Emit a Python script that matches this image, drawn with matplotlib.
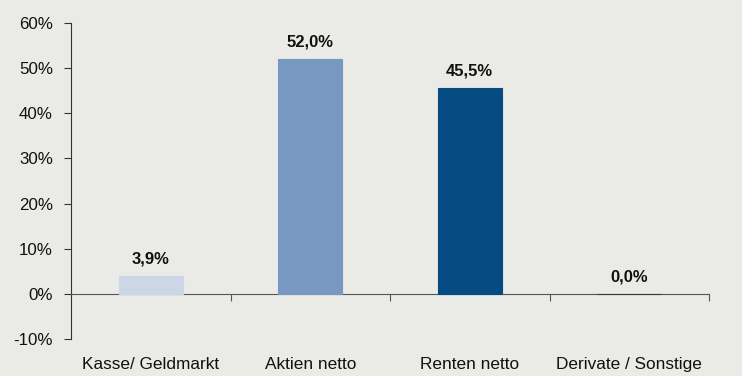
import matplotlib.pyplot as plt
import numpy as np

plt.rcParams['font.family'] = ['Liberation Sans', 'DejaVu Sans']

# Anteile je Anlageklasse in Prozent
kategorien = ['Kasse/ Geldmarkt', 'Aktien netto', 'Renten netto', 'Derivate / Sonstige']
anteile = [3.9, 52.0, 45.5, 0.0]
farben = ['#cdd6e7', '#7798c0', '#064a82', '#2e3a48']
y_ticks = [-10, 0, 10, 20, 30, 40, 50, 60]

bg = '#eaeae6'
fig = plt.figure(figsize=(7.42, 3.76), dpi=100, facecolor=bg)
ax = fig.add_axes([71 / 742, 1 - 339 / 376, 638 / 742, 316 / 376])
ax.set_facecolor(bg)

x = np.arange(len(kategorien))
# Randlinie in Balkenfarbe, damit der 0-%-Balken als Strich sichtbar bleibt
ax.bar(x, anteile, width=0.4, color=farben, edgecolor=farben, linewidth=0.8, zorder=3)

for xi, v in zip(x, anteile):
    ax.annotate(f"{v:.1f}%".replace('.', ','), (xi, v), xytext=(0, 9),
                textcoords='offset points', ha='center', va='baseline',
                fontsize=12, fontweight='bold', color='#111111')

ax.set_xlim(-0.5, len(kategorien) - 0.5)
ax.set_ylim(-10, 60)
ax.set_yticks(y_ticks)
ax.set_yticklabels([f"{t}%" for t in y_ticks], fontsize=12.2, color='#111111')

# x-Achse liegt auf der Nulllinie, Striche an den Kategoriegrenzen
ax.spines['bottom'].set_position(('data', 0))
ax.spines['bottom'].set_color('#555555')
ax.spines['left'].set_color('#333333')
ax.spines['top'].set_visible(False)
ax.spines['right'].set_visible(False)
ax.set_xticks(np.arange(0.5, len(kategorien)))
ax.set_xticklabels([])
ax.tick_params(axis='x', direction='out', length=5, color='#555555')
ax.tick_params(axis='y', direction='out', length=5, color='#333333', pad=8)

for xi, name in zip(x, kategorien):
    ax.text(xi, -0.082, name, transform=ax.get_xaxis_transform(),
            ha='center', va='center', fontsize=12.4, color='#111111')

fig.savefig('out.png', dpi=100, facecolor=bg)
